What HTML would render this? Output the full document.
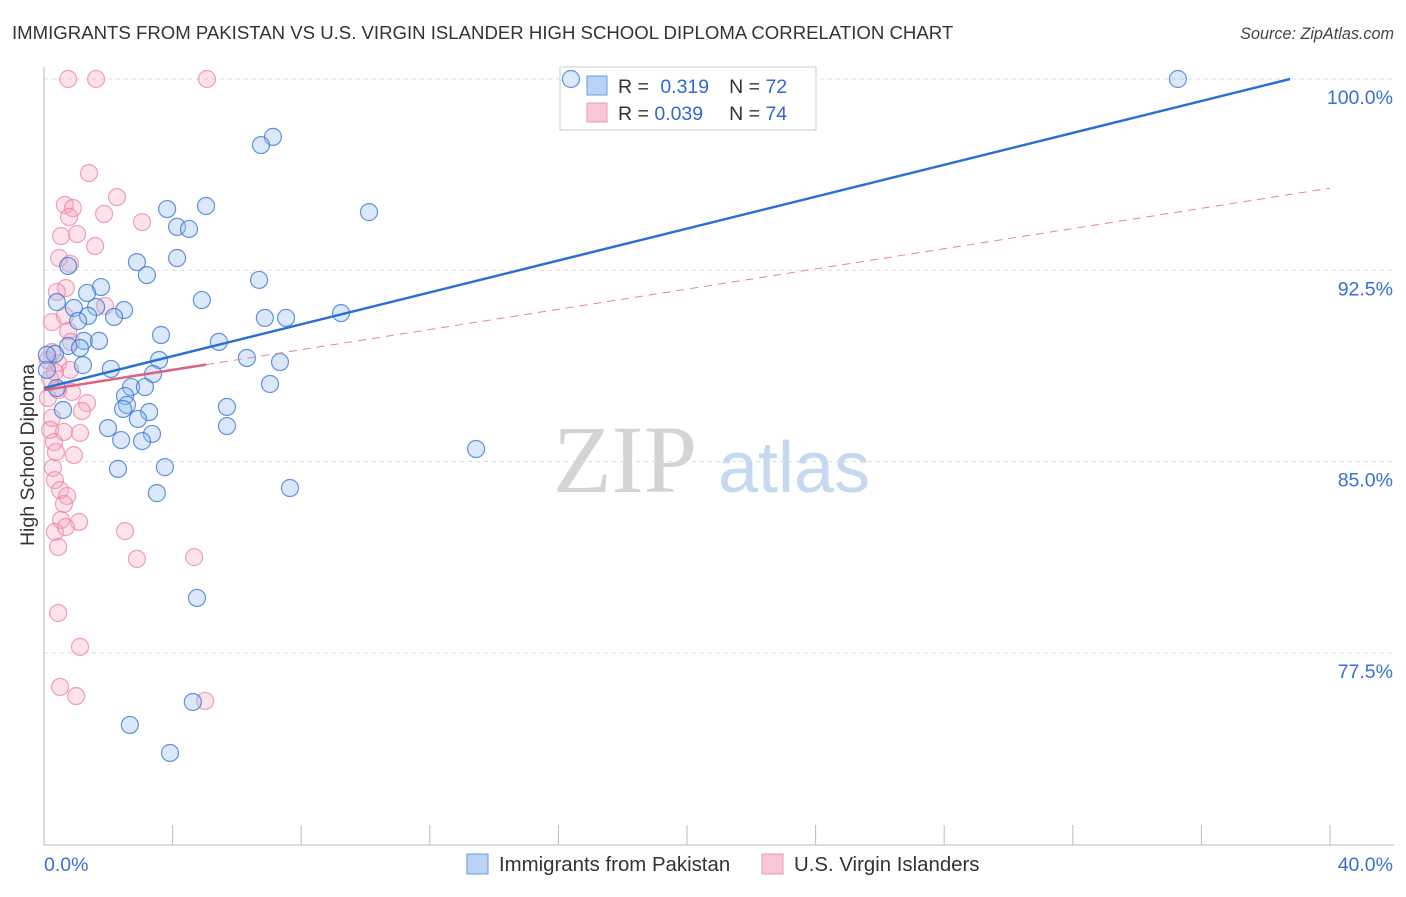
<!DOCTYPE html>
<html><head><meta charset="utf-8"><style>
body{margin:0;background:#fff;font-family:"Liberation Sans",sans-serif;}
</style></head><body>
<svg id="chart" width="1406" height="892" xmlns="http://www.w3.org/2000/svg" font-family="Liberation Sans, sans-serif">
<text x="12" y="39" font-size="18.6" fill="#333">IMMIGRANTS FROM PAKISTAN VS U.S. VIRGIN ISLANDER HIGH SCHOOL DIPLOMA CORRELATION CHART</text>
<text x="1394" y="39" font-size="16.2" fill="#444" font-style="italic" text-anchor="end">Source: ZipAtlas.com</text>
<g>
<text x="553" y="492" font-size="96" fill="#d4d4d4" style="font-family:'Liberation Serif',serif">ZIP</text>
<text x="718" y="492" font-size="72" fill="#c5d8f0">atlas</text>
</g>
<g id="grid"></g>
<g id="axes"></g>
<g>
<rect x="560" y="67" width="256" height="63" fill="#fff" stroke="#ccc"/>
<rect x="587" y="76" width="20" height="19" fill="#b8d3f5" stroke="#6a9ee0"/>
<rect x="587" y="103" width="20" height="19" fill="#f9c6d6" stroke="#ec9ab4"/>
<text x="618" y="93" font-size="19.5" fill="#333">R = <tspan fill="#2f6ad0" dx="6">0.319</tspan><tspan dx="20" fill="#333">N = </tspan><tspan fill="#2f6ad0">72</tspan></text>
<text x="618" y="120" font-size="19.5" fill="#333">R = <tspan fill="#2f6ad0">0.039</tspan><tspan dx="26" fill="#333">N = </tspan><tspan fill="#2f6ad0">74</tspan></text>
</g>
<g id="marks"></g>
<text transform="translate(34,455) rotate(-90)" font-size="19.5" fill="#333" text-anchor="middle">High School Diploma</text>
<g>
<rect x="467" y="854" width="21" height="20" fill="#b8d3f5" stroke="#6a9ee0"/>
<text x="499" y="871" font-size="20.4" fill="#333">Immigrants from Pakistan</text>
<rect x="762" y="854" width="21" height="20" fill="#f9c6d6" stroke="#ec9ab4"/>
<text x="794" y="871" font-size="20.4" fill="#333">U.S. Virgin Islanders</text>
</g>
</svg>
<script>
const yTicks=[100,92.5,85,77.5];
const yTickLabels=["100.0%","92.5%","85.0%","77.5%"];
const xTickLabels=["0.0%","40.0%"];
const blueX=[16.39,35.27,7.12,6.75,3.83,5.04,10.11,4.14,4.51,4.14,2.89,0.75,3.20,6.69,1.77,4.91,0.40,1.62,0.93,2.49,2.18,1.37,1.06,6.87,7.53,9.24,3.64,1.24,1.71,5.44,0.75,1.12,0.34,0.09,3.58,6.31,7.34,1.21,2.08,3.39,2.71,3.14,7.03,2.52,2.58,2.46,3.27,0.59,2.92,5.69,1.99,5.69,3.36,2.40,3.05,3.76,2.30,3.51,7.65,13.44,4.76,4.63,2.67,3.92,0.40,0.09,1.34];
const blueY=[100,100,97.73,97.41,94.90,95.02,94.78,94.20,94.12,92.98,92.82,92.67,92.31,92.12,91.84,91.33,91.25,91.06,91.02,90.94,90.67,90.71,90.51,90.63,90.63,90.82,89.96,89.73,89.73,89.69,89.53,89.45,89.22,89.18,88.98,89.06,88.90,88.78,88.63,88.43,87.92,87.92,88.04,87.57,87.22,87.06,86.94,87.02,86.67,87.14,86.31,86.39,86.08,85.84,85.80,84.78,84.71,83.76,83.96,85.49,79.65,75.57,74.67,73.57,87.88,88.59,91.61];
const pinkX=[0.75,1.62,5.07,1.40,2.27,0.65,0.90,0.78,1.87,3.05,0.53,1.03,1.59,0.47,0.81,0.68,0.40,1.90,0.25,0.65,0.75,0.84,0.25,0.44,0.19,0.81,0.44,0.87,1.34,0.12,0.25,1.18,0.62,1.12,0.31,0.37,0.93,0.28,0.34,0.50,0.72,0.62,0.53,1.09,0.34,0.68,2.52,2.89,4.67,0.44,0.44,1.12,0.50,1.00,5.01,0.12,0.19,0.34];
const pinkY=[100,100,100,96.31,95.37,95.06,94.94,94.59,94.71,94.39,93.84,93.92,93.45,92.98,92.75,91.80,91.65,91.10,90.47,90.71,90.12,89.69,89.29,88.86,88.24,88.59,87.80,87.73,87.29,87.49,86.71,86.98,86.16,86.12,85.76,85.37,85.25,84.75,84.27,83.88,83.65,83.33,82.71,82.63,82.24,82.43,82.27,81.18,81.25,81.65,79.06,77.73,76.16,75.80,75.61,88.98,86.24,88.51];
const blueTrend=[87.88,0.3127];
const pinkTrend=[87.80,0.198];
const pinkSolidEnd=5.04;

const NS="http://www.w3.org/2000/svg";
const X=v=>44+v*32.15;
const Y=v=>79+(100-v)*25.5;
function mk(tag,attrs,parent){const e=document.createElementNS(NS,tag);for(const k in attrs)e.setAttribute(k,attrs[k]);parent.appendChild(e);return e;}
const grid=document.getElementById('grid'),axes=document.getElementById('axes'),marks=document.getElementById('marks');
yTicks.forEach((t,i)=>{
  const l=mk('line',{x1:44,x2:1394,y1:Y(t),y2:Y(t),stroke:'#ddd','stroke-dasharray':'4,4'},grid);
  
  
  const tx=mk('text',{x:1393,y:Y(t)+25,'font-size':19.5,fill:'#3a6fd8','text-anchor':'end'},axes);
  tx.textContent=yTickLabels[i];
  
  
});
mk('line',{x1:44,x2:44,y1:67,y2:845,stroke:'#bbb'},axes);
mk('line',{x1:44,x2:1394,y1:845,y2:845,stroke:'#bbb'},axes);
for(let i=0;i<=10;i++){const t=mk('line',{x1:X(i*4),x2:X(i*4),y1:825,y2:845,stroke:'#bbb'},axes);
  
  }
const xl0=mk('text',{x:44,y:871,'font-size':19.5,fill:'#3a6fd8'},axes);xl0.textContent=xTickLabels[0];


const xl1=mk('text',{x:1393,y:871,'font-size':19.5,fill:'#3a6fd8','text-anchor':'end'},axes);xl1.textContent=xTickLabels[1];


pinkX.forEach((v,i)=>{const c=mk('circle',{cx:X(v),cy:Y(pinkY[i]),r:8.5,fill:'rgba(245,160,190,0.3)',stroke:'rgba(236,130,165,0.75)','stroke-width':1.2},marks);
  
  });
blueX.forEach((v,i)=>{const c=mk('circle',{cx:X(v),cy:Y(blueY[i]),r:8.5,fill:'rgba(150,190,240,0.35)',stroke:'rgba(60,120,210,0.8)','stroke-width':1.2},marks);
  
  });
const bEnd=(100-blueTrend[0])/blueTrend[1];
const bl=mk('line',{x1:X(0),y1:Y(blueTrend[0]),x2:X(bEnd),y2:Y(100),stroke:'#2a6fd4','stroke-width':2.5},marks);


const pd=mk('line',{x1:X(pinkSolidEnd),y1:Y(pinkTrend[0]+pinkTrend[1]*pinkSolidEnd),x2:X(40),y2:Y(pinkTrend[0]+pinkTrend[1]*40),stroke:'#e8829f','stroke-width':1,'stroke-dasharray':'8,6'},marks);


const ps=mk('line',{x1:X(0),y1:Y(pinkTrend[0]),x2:X(pinkSolidEnd),y2:Y(pinkTrend[0]+pinkTrend[1]*pinkSolidEnd),stroke:'#e0607f','stroke-width':2.5},marks);


</script>
</body></html>
